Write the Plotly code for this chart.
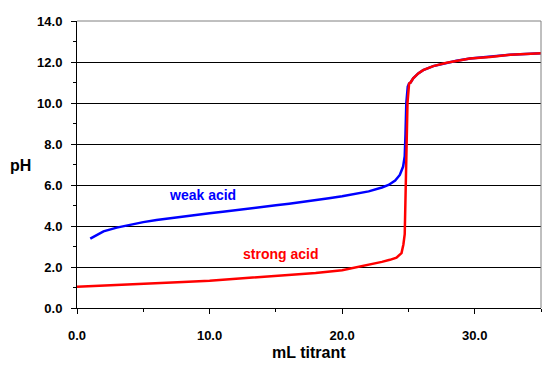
import plotly.graph_objects as go

# ---- data ----
weak_ml = [1, 2, 3, 4, 5, 6, 7, 8, 9, 10, 11, 12, 13, 14, 15, 16, 17, 18, 19, 20,
           21, 22, 23, 23.5, 24, 24.35, 24.6, 24.72, 24.78, 24.84, 24.95, 25.05,
           25.16, 25.36, 25.74, 26.11, 26.87, 27.88, 28.63, 29.64, 31.15, 32.66, 35]
weak_ph = [3.38, 3.74, 3.92, 4.06, 4.19, 4.29, 4.38, 4.47, 4.55, 4.62, 4.70, 4.77,
           4.85, 4.93, 5.01, 5.09, 5.17, 5.26, 5.35, 5.45, 5.56, 5.69, 5.88, 6.0,
           6.22, 6.49, 6.9, 7.4, 8.5, 10.0, 10.8, 10.95,
           11.0, 11.2, 11.44, 11.6, 11.8, 11.96, 12.06, 12.17, 12.25, 12.35, 12.43]

strong_ml = [0, 2, 4, 6, 8, 10, 12, 14, 16, 18, 20, 21, 22, 23, 23.6, 24.1, 24.48,
             24.62, 24.72, 24.8, 24.93, 25.05,
             25.16, 25.36, 25.74, 26.11, 26.87, 27.88, 28.63, 29.64, 31.15, 32.66, 35]
strong_ph = [1.04, 1.09, 1.14, 1.20, 1.27, 1.33, 1.42, 1.52, 1.61, 1.71, 1.84, 1.97,
             2.10, 2.25, 2.35, 2.46, 2.68, 3.1, 3.6, 6.7, 10.0, 10.95,
             11.0, 11.2, 11.44, 11.6, 11.8, 11.96, 12.06, 12.17, 12.25, 12.35, 12.43]

x_ticks = [0, 10, 20, 30]
x_tick_labels = ["0.0", "10.0", "20.0", "30.0"]
x_minor = [5, 15, 25, 35]
y_ticks = [0, 2, 4, 6, 8, 10, 12, 14]
y_tick_labels = ["0.0", "2.0", "4.0", "6.0", "8.0", "10.0", "12.0", "14.0"]
y_minor = [1, 3, 5, 7, 9, 11, 13]

FONT = "Liberation Sans, Arial, sans-serif"

fig = go.Figure()
fig.add_trace(go.Scatter(x=weak_ml, y=weak_ph, mode="lines", name="weak acid",
                         line=dict(color="#0000FF", width=2.5)))
fig.add_trace(go.Scatter(x=strong_ml, y=strong_ph, mode="lines", name="strong acid",
                         line=dict(color="#FF0000", width=2.5)))

# The page body has an 8px default margin, so the figure is sized/offset to compensate.
fig.update_layout(
    width=547, height=372,
    margin=dict(l=69, r=14, t=13, b=72),
    plot_bgcolor="white", paper_bgcolor="white",
    showlegend=False,
    font=dict(family=FONT, color="black"),
    xaxis=dict(
        range=[0, 35], tickmode="array", tickvals=x_ticks, ticktext=x_tick_labels,
        ticks="outside", ticklen=5, tickcolor="black", tickwidth=1,
        showline=True, linecolor="black", linewidth=1,
        showgrid=False, zeroline=False, automargin=False,
        tickfont=dict(size=13, weight="bold", family=FONT),
        ticklabelstandoff=10,
        minor=dict(tickvals=x_minor, ticks="outside", ticklen=3, tickcolor="black", showgrid=False),
    ),
    yaxis=dict(
        range=[0, 14], tickmode="array", tickvals=y_ticks, ticktext=y_tick_labels,
        ticks="outside", ticklen=5, tickcolor="black", tickwidth=1,
        showline=True, linecolor="black", linewidth=1,
        showgrid=True, gridcolor="black", gridwidth=1, zeroline=False, automargin=False,
        tickfont=dict(size=13, weight="bold", family=FONT),
        ticklabelstandoff=6,
        minor=dict(tickvals=y_minor, ticks="outside", ticklen=3, tickcolor="black", showgrid=False),
    ),
    shapes=[
        dict(type="line", xref="paper", yref="paper", x0=0, x1=1, y0=1, y1=1,
             line=dict(color="#808080", width=1), layer="above"),
        dict(type="line", xref="paper", yref="paper", x0=1, x1=1, y0=0, y1=1,
             line=dict(color="#808080", width=1), layer="above"),
    ],
    annotations=[
        dict(text="mL titrant", xref="paper", yref="paper", x=0.5, y=-0.155,
             xanchor="center", yanchor="middle", showarrow=False,
             font=dict(size=16, weight="bold", family=FONT, color="black")),
        dict(text="pH", xref="paper", yref="paper", x=-0.1208, y=0.498,
             xanchor="center", yanchor="middle", showarrow=False,
             font=dict(size=16, weight="bold", family=FONT, color="black")),
        dict(text="weak acid", xref="x", yref="y", x=9.45, y=5.49,
             xanchor="center", yanchor="middle", showarrow=False,
             font=dict(size=14, weight="bold", family=FONT, color="#0000FF")),
        dict(text="strong acid", xref="x", yref="y", x=15.34, y=2.62,
             xanchor="center", yanchor="middle", showarrow=False,
             font=dict(size=14, weight="bold", family=FONT, color="#FF0000")),
    ],
)

fig.write_html("out.html")
